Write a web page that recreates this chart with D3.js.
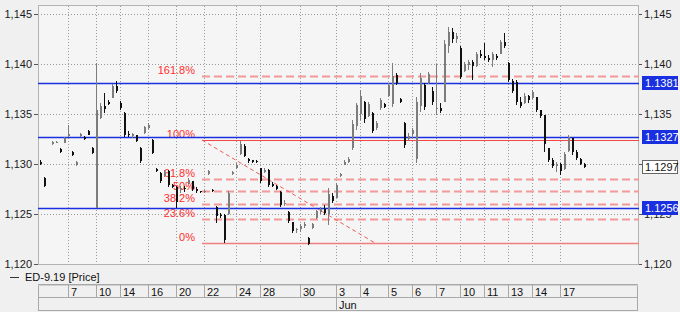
<!DOCTYPE html>
<html>
<head>
<meta charset="utf-8">
<script src="https://cdn.jsdelivr.net/npm/d3@7"></script>
<style>
  html, body { margin: 0; padding: 0; background: #f0f0f0; }
  svg { display: block; font-family: "Liberation Sans", Arial, sans-serif; }
</style>
</head>
<body>
<svg id="chart" width="680" height="312"></svg>
<script>
// one slot per bar: [open, high, low, close], null = no trade in that slot
const ohlc = [
  [1.1302,1.1304,1.1299,1.1300], [1.1286,1.1287,1.1277,1.1278], null, [1.1320,1.1323,1.1319,1.1322],
  [1.1322,1.1323,1.1321,1.1322], [1.1315,1.1316,1.1311,1.1312], [1.1321,1.1327,1.1321,1.1326], [1.1328,1.1339,1.1327,1.1330],
  [1.1312,1.1313,1.1308,1.1309], [1.1299,1.1303,1.1298,1.1302], [1.1328,1.1331,1.1327,1.1330], [1.1327,1.1328,1.1324,1.1325],
  [1.1333,1.1334,1.1329,1.1329], [1.1316,1.1317,1.1310,1.1311], [1.1256,1.1401,1.1256,1.1354], [1.1346,1.1361,1.1345,1.1358],
  [1.1358,1.1371,1.1351,1.1355], [1.1362,1.1364,1.1359,1.1360], [1.1366,1.1380,1.1366,1.1378], [1.1378,1.1383,1.1371,1.1373],
  [1.1361,1.1363,1.1354,1.1356], [1.1351,1.1352,1.1327,1.1329], [1.1330,1.1333,1.1327,1.1329], [1.1328,1.1331,1.1326,1.1330],
  [1.1329,1.1329,1.1322,1.1323], [1.1316,1.1317,1.1301,1.1303], [1.1331,1.1338,1.1330,1.1337], [1.1336,1.1341,1.1335,1.1339],
  [1.1324,1.1325,1.1310,1.1311], [1.1295,1.1296,1.1292,1.1293], [1.1291,1.1292,1.1281,1.1283], [1.1288,1.1294,1.1287,1.1292],
  [1.1293,1.1294,1.1277,1.1279], [1.1279,1.1280,1.1276,1.1277], [1.1277,1.1278,1.1256,1.1262], [1.1274,1.1278,1.1271,1.1276],
  [1.1276,1.1278,1.1272,1.1275], [1.1280,1.1286,1.1280,1.1284], [1.1283,1.1283,1.1273,1.1275], [1.1275,1.1277,1.1271,1.1273],
  [1.1273,1.1273,1.1271,1.1272], [1.1272,1.1274,1.1271,1.1273], [1.1290,1.1294,1.1289,1.1293], [1.1274,1.1275,1.1272,1.1273],
  [1.1257,1.1258,1.1241,1.1248], [1.1249,1.1251,1.1246,1.1248], [1.1249,1.1250,1.1221,1.1224], [1.1250,1.1273,1.1249,1.1271],
  [1.1290,1.1293,1.1289,1.1292], [1.1296,1.1301,1.1295,1.1299], [1.1310,1.1323,1.1309,1.1320], [1.1318,1.1320,1.1307,1.1308],
  [1.1305,1.1306,1.1301,1.1303], [1.1304,1.1304,1.1301,1.1302], [1.1303,1.1304,1.1301,1.1302], [1.1296,1.1296,1.1281,1.1283],
  [1.1292,1.1296,1.1291,1.1294], [1.1294,1.1295,1.1277,1.1279], [1.1280,1.1282,1.1277,1.1278], [1.1278,1.1279,1.1274,1.1275],
  [1.1272,1.1273,1.1257,1.1259], [1.1260,1.1264,1.1258,1.1261], [1.1252,1.1253,1.1241,1.1243], [1.1242,1.1242,1.1231,1.1233],
  [1.1234,1.1236,1.1231,1.1235], [1.1235,1.1240,1.1232,1.1238], [1.1238,1.1242,1.1236,1.1240], [1.1226,1.1227,1.1219,1.1220],
  [1.1236,1.1241,1.1235,1.1240], [1.1246,1.1254,1.1245,1.1253], [1.1252,1.1257,1.1250,1.1255], [1.1255,1.1259,1.1249,1.1251],
  [1.1250,1.1276,1.1239,1.1270], [1.1268,1.1271,1.1261,1.1263], [1.1266,1.1281,1.1266,1.1279], [1.1288,1.1291,1.1287,1.1290],
  [1.1299,1.1304,1.1299,1.1302], [1.1302,1.1307,1.1301,1.1305], [1.1316,1.1344,1.1314,1.1340], [1.1338,1.1361,1.1334,1.1359],
  [1.1350,1.1374,1.1344,1.1368], [1.1362,1.1363,1.1341,1.1345], [1.1348,1.1362,1.1347,1.1360], [1.1351,1.1352,1.1331,1.1333],
  [1.1336,1.1343,1.1334,1.1341], [1.1356,1.1366,1.1354,1.1364], [1.1360,1.1361,1.1356,1.1357], [1.1368,1.1381,1.1367,1.1379],
  [1.1360,1.1401,1.1357,1.1388], [1.1389,1.1391,1.1379,1.1381], [1.1365,1.1366,1.1361,1.1362], [1.1341,1.1342,1.1316,1.1319],
  [1.1325,1.1331,1.1324,1.1328], [1.1330,1.1336,1.1326,1.1334], [1.1305,1.1367,1.1301,1.1362], [1.1358,1.1391,1.1352,1.1386],
  [1.1379,1.1381,1.1354,1.1357], [1.1381,1.1392,1.1380,1.1390], [1.1373,1.1377,1.1359,1.1362], [1.1355,1.1400,1.1349,1.1356],
  [1.1356,1.1361,1.1351,1.1353], [1.1362,1.1424,1.1362,1.1420], [1.1418,1.1437,1.1411,1.1432], [1.1432,1.1436,1.1421,1.1425],
  [1.1425,1.1431,1.1421,1.1428], [1.1416,1.1418,1.1385,1.1387], [1.1393,1.1402,1.1392,1.1400], [1.1399,1.1404,1.1394,1.1402],
  [1.1402,1.1404,1.1384,1.1398], [1.1398,1.1412,1.1397,1.1410], [1.1410,1.1414,1.1406,1.1408], [1.1408,1.1421,1.1404,1.1406],
  [1.1406,1.1409,1.1402,1.1404], [1.1404,1.1412,1.1397,1.1410], [1.1408,1.1410,1.1404,1.1406], [1.1410,1.1424,1.1410,1.1422],
  [1.1422,1.1431,1.1416,1.1418], [1.1401,1.1402,1.1382,1.1384], [1.1383,1.1385,1.1371,1.1373], [1.1382,1.1384,1.1359,1.1362],
  [1.1362,1.1367,1.1356,1.1358], [1.1361,1.1371,1.1360,1.1368], [1.1368,1.1369,1.1361,1.1364], [1.1366,1.1374,1.1365,1.1372],
  [1.1367,1.1367,1.1352,1.1354], [1.1354,1.1354,1.1346,1.1348], [1.1349,1.1349,1.1312,1.1320], [1.1316,1.1316,1.1302,1.1304],
  [1.1304,1.1306,1.1296,1.1298], [1.1298,1.1302,1.1292,1.1300], [1.1300,1.1301,1.1289,1.1293], [1.1295,1.1312,1.1294,1.1310],
  [1.1313,1.1329,1.1312,1.1327], [1.1326,1.1326,1.1309,1.1312], [1.1312,1.1314,1.1304,1.1306], [1.1305,1.1306,1.1299,1.1300],
  [1.1300,1.1301,1.1296,1.1297]
]

// first bar slot of each trading day shown on the axis
const dayLabels = ["7", "10", "14", "16", "20", "22", "24", "28", "30", "3", "4", "5", "6", "7", "10", "11", "13", "14", "17"]
const dayStarts = [7, 14, 20, 27, 34, 41, 49, 55, 65, 74, 80, 87, 93, 99, 105, 111, 117, 123, 130]
const monthLabels = ["Jun"]
const monthStarts = [74]

const yTicks = [1.120, 1.125, 1.130, 1.135, 1.140, 1.145]
const levels = [1.1381, 1.1327, 1.1256]
const lastPrice = 1.1297

const fibRatios = [1.618, 1, 0.618, 0.5, 0.382, 0.236, 0]
const fibHigh = 1.1324, fibLow = 1.1221
const fibFrom = 40.5, fibTo = 83.75

const svg = d3.select("#chart")
const margin = { top: 5, left: 38 }
const width = 601, height = 260

const x = d3.scaleLinear().domain([-0.5, 149.75]).range([0, width])
const y = d3.scaleLinear().domain([1.1199, 1.1459]).range([height, 0])
const eu = d3.formatLocale({ decimal: ",", thousands: ".", grouping: [3], currency: ["", ""] })

const g = svg.append("g").attr("transform", "translate(" + margin.left + "," + margin.top + ")")

g.append("rect")
    .attr("width", width).attr("height", height)
    .attr("fill", "#f5f5f5")

// grid
g.append("g")
    .call(d3.axisLeft(y).tickValues(yTicks).tickSize(-width).tickFormat(""))
    .call(a => a.select(".domain").remove())
    .selectAll("line").attr("stroke", "#9a9a9a").attr("stroke-dasharray", "1,2")
g.append("g")
    .attr("transform", "translate(0," + height + ")")
    .call(d3.axisBottom(x).tickValues(dayStarts).tickSize(-height).tickFormat(""))
    .call(a => a.select(".domain").remove())
    .selectAll("line").attr("stroke", "#9a9a9a").attr("stroke-dasharray", "1,2")

g.append("rect")
    .attr("x", 0.5).attr("y", 0.5)
    .attr("width", width - 1).attr("height", height - 1)
    .attr("fill", "none").attr("stroke", "#b4b4b4")

// axes
const styleAxis = a => {
  a.select(".domain").remove()
  a.selectAll("line").attr("stroke", "#555")
  a.selectAll("text").attr("fill", "#1a1a1a").style("font-size", "11px").style("font-family", "'Liberation Sans', Arial, sans-serif")
}
g.append("g")
    .call(d3.axisLeft(y).tickValues(yTicks).tickSize(4).tickPadding(2).tickFormat(eu.format(".3f")))
    .call(styleAxis)
g.append("g")
    .attr("transform", "translate(" + width + ",0)")
    .call(d3.axisRight(y).tickValues(yTicks).tickSize(3).tickPadding(2).tickFormat(eu.format(".3f")))
    .call(styleAxis)

// fibonacci retracement
const fibPrice = r => fibLow + r * (fibHigh - fibLow)
const fib = g.append("g")
fib.selectAll(".fibline")
  .data(fibRatios)
  .join("line")
    .attr("class", "fibline")
    .attr("x1", x(fibFrom)).attr("x2", width)
    .attr("y1", d => Math.round(y(fibPrice(d))) + 0.5)
    .attr("y2", d => Math.round(y(fibPrice(d))) + 0.5)
    .style("stroke", d => d === 1 ? "#f04848" : d === 0 ? "#f08080" : "#f29a9a")
    .style("stroke-width", d => d === 1 ? 1 : d === 0 ? 1.6 : 2)
    .style("stroke-dasharray", d => (d === 0 || d === 1) ? "none" : "8,4")
fib.append("line")
    .attr("x1", x(fibFrom)).attr("y1", y(fibHigh))
    .attr("x2", x(fibTo)).attr("y2", y(fibLow))
    .style("stroke", "#f05a5a").style("stroke-dasharray", "4,3")

// blue price levels
g.append("g").selectAll("line")
  .data(levels)
  .join("line")
    .attr("x1", 0).attr("x2", width)
    .attr("y1", d => Math.round(y(d)) + 0.5).attr("y2", d => Math.round(y(d)) + 0.5)
    .attr("stroke", "#1a30e0").attr("stroke-width", 1.5)

// candles
const bars = ohlc.map((d, i) => d && { i, o: d[0], h: d[1], l: d[2], c: d[3] }).filter(Boolean)
const candle = g.append("g").attr("shape-rendering", "crispEdges")
  .selectAll("g")
  .data(bars)
  .join("g")
    .attr("fill", d => d.c >= d.o ? "#7c7c7c" : "#111")
    .attr("stroke", d => d.c >= d.o ? "#7c7c7c" : "#111")
candle.append("line")
    .attr("x1", d => Math.round(x(d.i)) + 0.5).attr("x2", d => Math.round(x(d.i)) + 0.5)
    .attr("y1", d => y(d.h)).attr("y2", d => y(d.l))
candle.append("rect")
    .attr("stroke", "none")
    .attr("x", d => Math.round(x(d.i)))
    .attr("width", 2)
    .attr("y", d => y(Math.max(d.o, d.c)))
    .attr("height", d => Math.max(1, y(Math.min(d.o, d.c)) - y(Math.max(d.o, d.c))))

// fib labels
fib.selectAll("text")
  .data(fibRatios)
  .join("text")
    .attr("x", x(fibFrom) - 7)
    .attr("y", d => y(fibPrice(d)) - 2)
    .attr("text-anchor", "end")
    .attr("fill", "#ff2e2e")
    .style("font-size", "11px")
    .text(d => +(d * 100).toFixed(1) + "%")

// right-hand price tags
const tag = g.append("g").attr("transform", "translate(" + (width + 3) + ",0)")
  .selectAll("g")
  .data(levels.map(v => ({ v, blue: true })).concat([{ v: lastPrice, blue: false }]))
  .join("g")
    .attr("transform", d => "translate(0," + Math.round(y(d.v)) + ")")
tag.append("rect")
    .attr("x", 0.5).attr("y", -6.5).attr("width", 35).attr("height", 13)
    .attr("fill", d => d.blue ? "#1a30e0" : "#fff")
    .attr("stroke", d => d.blue ? "#1a30e0" : "#666")
tag.append("text")
    .attr("x", 3).attr("y", 4)
    .attr("fill", d => d.blue ? "#fff" : "#111")
    .style("font-size", "11px")
    .text(d => d.v.toFixed(4))

// legend
const legend = svg.append("g").attr("transform", "translate(10,277)")
legend.append("line").attr("x1", 0).attr("x2", 9).attr("y1", 0.5).attr("y2", 0.5).attr("stroke", "#333")
legend.append("text").attr("x", 15).attr("y", 4).attr("fill", "#111").style("font-size", "11px").text("ED-9.19 [Price]")

// date axis
const dax = svg.append("g").attr("transform", "translate(" + margin.left + ",284)")
dax.append("rect").attr("x", 0.5).attr("y", 0.5).attr("width", width - 2).attr("height", 26)
    .attr("fill", "#f0f0f0").attr("stroke", "#a8a8a8")
dax.append("line").attr("x1", 0).attr("x2", width - 1).attr("y1", 13.5).attr("y2", 13.5).attr("stroke", "#a8a8a8")
dax.append("line").attr("x1", 0).attr("x2", width - 1).attr("y1", 1.5).attr("y2", 1.5).attr("stroke", "#d0d0d0")
dax.selectAll(".day")
  .data(dayStarts)
  .join("line")
    .attr("class", "day")
    .attr("x1", d => Math.round(x(d)) + 0.5).attr("x2", d => Math.round(x(d)) + 0.5)
    .attr("y1", 1).attr("y2", 13)
    .attr("stroke", "#a8a8a8")
dax.selectAll(".dayl")
  .data(dayStarts)
  .join("text")
    .attr("class", "dayl")
    .attr("x", d => Math.round(x(d)) + 3)
    .attr("y", 11.5)
    .attr("fill", "#111").style("font-size", "11px")
    .text((d, i) => dayLabels[i])
dax.selectAll(".mon")
  .data(monthStarts)
  .join("line")
    .attr("class", "mon")
    .attr("x1", d => Math.round(x(d)) + 0.5).attr("x2", d => Math.round(x(d)) + 0.5)
    .attr("y1", 14).attr("y2", 26)
    .attr("stroke", "#a8a8a8")
dax.selectAll(".monl")
  .data(monthStarts)
  .join("text")
    .attr("class", "monl")
    .attr("x", d => Math.round(x(d)) + 3)
    .attr("y", 24.5)
    .attr("fill", "#111").style("font-size", "11px")
    .text((d, i) => monthLabels[i])
</script>
</body>
</html>
